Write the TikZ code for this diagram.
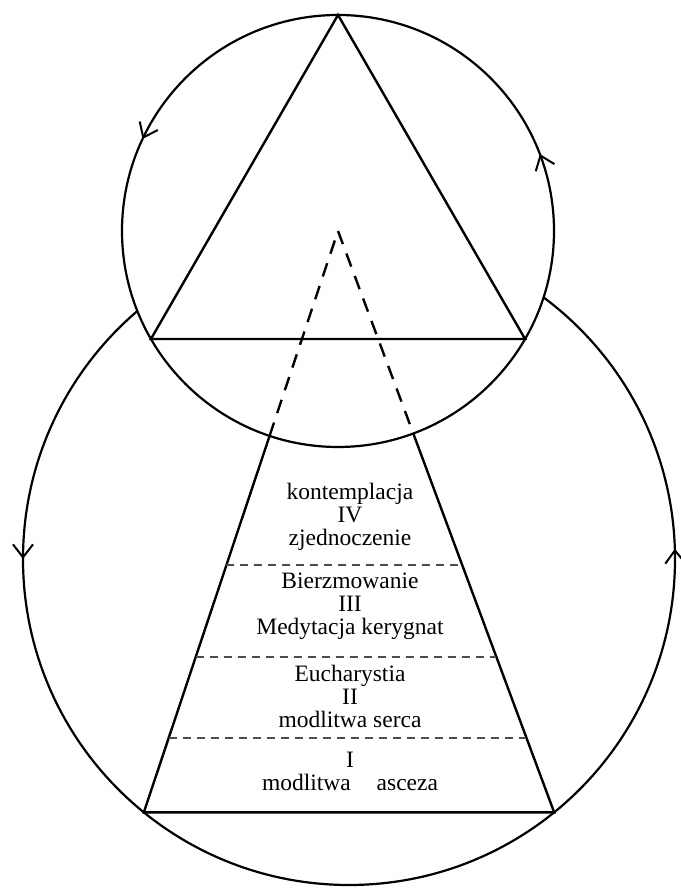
\documentclass[tikz,border=0pt]{standalone}
\usepackage{fontspec}
\setmainfont{Liberation Serif}
\usetikzlibrary{arrows.meta,calc,decorations.markings}
\tikzset{
  ring/.style={draw=black, line width=2.2pt},
  flow/.style 2 args={postaction={decorate}, decoration={markings,
      mark=at position #1 with {\arrow{Straight Barb[length=13pt,width=20pt,line width=2pt]}},
      mark=at position #2 with {\arrow{Straight Barb[length=13pt,width=20pt,line width=2pt]}}}},
  solidside/.style={line width=2.4pt, line join=miter},
  dashside/.style={line width=2.4pt, dash pattern=on 14pt off 10pt},
  levelline/.style={line width=1.4pt, black!70, dash pattern=on 8pt off 6pt},
  stage/.style={align=center, font=\fontsize{23.5}{23}\selectfont, inner sep=0pt}
}

\begin{document}
\begin{tikzpicture}[x=1pt,y=1pt]
  \useasboundingbox (0,0) rectangle (680,890);
  \coordinate (bigc) at (349,331);
  \coordinate (topc) at (338,659);
  \draw[ring, flow={0.005}{0.5}] (bigc) circle (326);
  \draw[ring, fill=white, flow={0.058}{0.43}] (topc) circle (216);

  \coordinate (apex) at ($(topc)+(90:216)$);
  \coordinate (tl) at ($(topc)+(210:216)$);
  \coordinate (tr) at ($(topc)+(330:216)$);
  \draw[solidside] (apex) -- (tl) -- (tr) -- cycle;

  \coordinate (bl) at ($(bigc)+(231:326)$);
  \coordinate (br) at ($(bigc)+(309:326)$);
  \coordinate (el) at ($(topc)!216pt!(bl)$);
  \coordinate (er) at ($(topc)!216pt!(br)$);
  \draw[solidside] (el) -- (bl) -- (br) -- (er);
  \draw[dashside] (el) -- (topc) -- (er);
  \foreach \t in {0.4255,0.267,0.128}
    \draw[levelline] ($(bl)!\t!(topc)$) -- ($(br)!\t!(topc)$);

  \node[stage] (four) at (350,373) {kontemplacja\\IV\\zjednoczenie};
  \node[stage] (three) at (350,284) {Bierzmowanie\\III\\Medytacja kerygnat};
  \node[stage] (two) at (350,194) {Eucharystia\\II\\modlitwa serca};
  \node[stage] (one) at (350,119) {I\\modlitwa\hspace{1.1em}asceza};
\end{tikzpicture}
\end{document}
